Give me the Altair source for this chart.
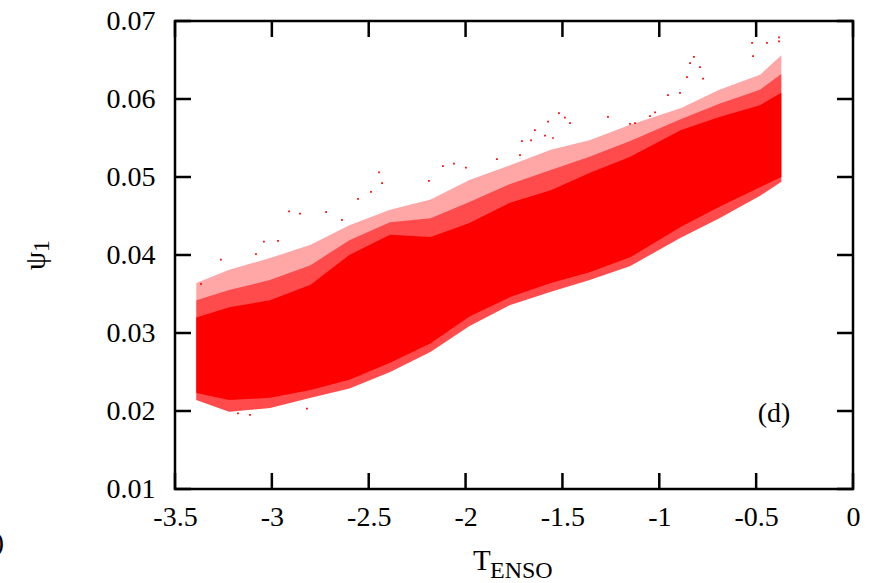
import altair as alt
import pandas as pd

# ---- data ----
# envelope of the dense point cloud (T_ENSO on x, psi_1 on y)
band_x = [-3.39, -3.22, -3.01, -2.80, -2.60, -2.39, -2.18, -1.98,
          -1.77, -1.56, -1.36, -1.15, -0.89, -0.69, -0.48, -0.37]
fringe_low = [0.0214, 0.0199, 0.0204, 0.0217, 0.0229, 0.0250, 0.0276, 0.0309,
              0.0336, 0.0353, 0.0368, 0.0386, 0.0422, 0.0447, 0.0476, 0.0494]
core_low = [0.0223, 0.0214, 0.0217, 0.0227, 0.0240, 0.0262, 0.0287, 0.0321,
            0.0346, 0.0364, 0.0378, 0.0397, 0.0436, 0.0462, 0.0487, 0.0500]
core_high = [0.0320, 0.0333, 0.0342, 0.0362, 0.0400, 0.0426, 0.0423, 0.0441,
             0.0467, 0.0483, 0.0505, 0.0526, 0.0560, 0.0577, 0.0592, 0.0608]
mid_high = [0.0342, 0.0355, 0.0368, 0.0387, 0.0419, 0.0442, 0.0447, 0.0468,
            0.0491, 0.0509, 0.0526, 0.0546, 0.0574, 0.0594, 0.0612, 0.0632]
fringe_high = [0.0364, 0.0381, 0.0396, 0.0413, 0.0438, 0.0458, 0.0471, 0.0496,
               0.0515, 0.0535, 0.0547, 0.0567, 0.0588, 0.0612, 0.0631, 0.0656]

# scattered isolated points outside the dense cloud
out_x = [-1.518, -1.487, -1.574, -1.461, -1.642, -1.590, -1.549, -1.662,
         -2.447, -2.431, -2.488, -2.117, -2.060, -1.998, -1.838, -1.719,
         -0.521, -0.444, -0.382, -0.382, -0.516, -0.841, -0.821, -0.790,
         -0.857, -0.774, -1.265, -1.022, -0.955, -0.893, -1.048, -2.911,
         -2.855, -2.720, -3.041, -3.263, -3.366, -3.082, -2.968, -2.638,
         -2.555, -1.709, -2.189, -1.151, -1.125, -3.113, -3.175, -2.819]
out_y = [0.0582, 0.0576, 0.0571, 0.0569, 0.0560, 0.0553, 0.0550, 0.0547,
         0.0506, 0.0492, 0.0481, 0.0514, 0.0517, 0.0512, 0.0523, 0.0528,
         0.0672, 0.0672, 0.0679, 0.0674, 0.0655, 0.0646, 0.0654, 0.0641,
         0.0628, 0.0626, 0.0577, 0.0583, 0.0605, 0.0608, 0.0578, 0.0456,
         0.0453, 0.0455, 0.0417, 0.0394, 0.0363, 0.0401, 0.0418, 0.0445,
         0.0472, 0.0546, 0.0495, 0.0568, 0.0569, 0.0195, 0.0197, 0.0203]

x_ticks = [-3.5, -3, -2.5, -2, -1.5, -1, -0.5, 0]
y_ticks = [0.01, 0.02, 0.03, 0.04, 0.05, 0.06, 0.07]

panel_label = "(d)"
panel_label_x = [-0.408]
panel_label_y = [0.0196]

# ---- build ----
band = pd.DataFrame({
    "x": band_x, "flo": fringe_low, "clo": core_low, "chi": core_high,
    "mhi": mid_high, "fhi": fringe_high,
})
pts = pd.DataFrame({"x": out_x, "y": out_y})
lab = pd.DataFrame({"x": panel_label_x, "y": panel_label_y, "t": [panel_label]})
xt = pd.DataFrame({"v": x_ticks})
yt = pd.DataFrame({"v": y_ticks})

FONT = "Liberation Serif"
RED = "#ff0000"
W, H = 678, 468
TICK = 16

xs = alt.Scale(domain=[-3.5, 0], nice=False, zero=False)
ys = alt.Scale(domain=[0.01, 0.07], nice=False, zero=False)

ax_bottom = alt.Axis(values=x_ticks, domain=False, grid=False, title=None,
                     ticks=False, labelPadding=14,
                     labelExpr="toString(datum.value)", labelFlush=False,
                     labelFont=FONT, labelFontSize=28, labelColor="black")
ax_left = alt.Axis(values=y_ticks, domain=False, grid=False, title=None,
                   ticks=False, labelPadding=20,
                   labelExpr="toString(datum.value)", labelFlush=False,
                   labelFont=FONT, labelFontSize=28, labelColor="black")

outer = alt.Chart(band).mark_area(color=RED, opacity=0.35).encode(
    x=alt.X("x:Q", scale=xs, axis=ax_bottom),
    y=alt.Y("flo:Q", scale=ys, axis=ax_left),
    y2="fhi:Q",
)
mid = alt.Chart(band).mark_area(color=RED, opacity=0.55).encode(
    x=alt.X("x:Q", scale=xs),
    y=alt.Y("flo:Q", scale=ys),
    y2="mhi:Q",
)
core = alt.Chart(band).mark_area(color=RED, opacity=1).encode(
    x=alt.X("x:Q", scale=xs),
    y=alt.Y("clo:Q", scale=ys),
    y2="chi:Q",
)
dots = alt.Chart(pts).mark_square(color=RED, size=3, opacity=1).encode(
    x=alt.X("x:Q", scale=xs),
    y=alt.Y("y:Q", scale=ys),
)
dlabel = alt.Chart(lab).mark_text(font=FONT, fontSize=28, color="black",
                                  align="center", baseline="middle").encode(
    x=alt.X("x:Q", scale=xs),
    y=alt.Y("y:Q", scale=ys),
    text="t:N",
)

# inward tick marks on all four sides of the frame
tick_style = dict(color="black", strokeWidth=2.5)
t_bottom = alt.Chart(xt).mark_rule(**tick_style).encode(
    x=alt.X("v:Q", scale=xs), y=alt.value(H), y2=alt.value(H - TICK))
t_top = alt.Chart(xt).mark_rule(**tick_style).encode(
    x=alt.X("v:Q", scale=xs), y=alt.value(0), y2=alt.value(TICK))
t_left = alt.Chart(yt).mark_rule(**tick_style).encode(
    y=alt.Y("v:Q", scale=ys), x=alt.value(0), x2=alt.value(TICK))
t_right = alt.Chart(yt).mark_rule(**tick_style).encode(
    y=alt.Y("v:Q", scale=ys), x=alt.value(W), x2=alt.value(W - TICK))

def txt(s, x, y, size, **kw):
    return alt.Chart(pd.DataFrame({"t": [s]})).mark_text(
        font=FONT, fontSize=size, color="black", **kw
    ).encode(x=alt.value(x), y=alt.value(y), text="t:N")

t_main = txt("T", 298, 549, 29, align="left", baseline="alphabetic")
t_sub = txt("ENSO", 315, 557, 24, align="left", baseline="alphabetic")
psi_main = txt("ψ", -139, 240, 29, align="center", baseline="middle", angle=270)
psi_sub = txt("1", -133, 225, 24, align="center", baseline="middle", angle=270)
cut = txt(")", -171, 522, 28, align="right", baseline="middle")

chart = alt.layer(
    outer, mid, core, dots, dlabel,
    t_bottom, t_top, t_left, t_right,
    t_main, t_sub, psi_main, psi_sub, cut,
).properties(
    width=W, height=H,
    background="white",
    autosize=alt.AutoSizeParams(type="none"),
    padding={"left": 175, "top": 21, "right": 41, "bottom": 94},
).configure_view(
    stroke="black", strokeWidth=2.5,
)

chart.save("out.html", embed_options={"renderer": "svg", "actions": False})
